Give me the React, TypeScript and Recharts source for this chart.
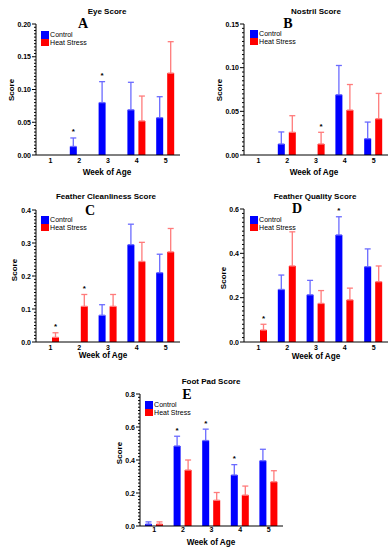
import React from 'react';
import { BarChart, Bar, XAxis, YAxis, ErrorBar, LabelList, Legend } from 'recharts';

const weeks = ['1', '2', '3', '4', '5'];

// Eye score
const eyeControl = [0, 0.013, 0.080, 0.069, 0.057];
const eyeControlErr = [0, 0.013, 0.032, 0.042, 0.032];
const eyeHeat = [0, 0, 0, 0.052, 0.125];
const eyeHeatErr = [0, 0, 0, 0.038, 0.048];
const eyeControlStar = [false, true, true, false, false];
const eyeHeatStar = [false, false, false, false, false];
const eyeTicks = [0, 0.05, 0.1, 0.15, 0.2];

// Nostril score
const nosControl = [0, 0.0126, 0, 0.069, 0.0187];
const nosControlErr = [0, 0.0138, 0, 0.0335, 0.019];
const nosHeat = [0, 0.026, 0.0126, 0.0514, 0.0415];
const nosHeatErr = [0, 0.019, 0.0134, 0.0293, 0.029];
const nosControlStar = [false, false, false, false, false];
const nosHeatStar = [false, false, true, false, false];
const nosTicks = [0, 0.05, 0.1, 0.15];

// Feather cleanliness score
const clnControl = [0, 0, 0.081, 0.295, 0.21];
const clnControlErr = [0, 0, 0.032, 0.062, 0.056];
const clnHeat = [0.014, 0.108, 0.108, 0.244, 0.273];
const clnHeatErr = [0.014, 0.036, 0.036, 0.058, 0.071];
const clnControlStar = [false, false, false, false, false];
const clnHeatStar = [true, true, false, false, false];
const clnTicks = [0, 0.1, 0.2, 0.3, 0.4];

// Feather quality score
const qltControl = [0, 0.237, 0.213, 0.483, 0.34];
const qltControlErr = [0, 0.065, 0.065, 0.082, 0.08];
const qltHeat = [0.054, 0.343, 0.174, 0.19, 0.272];
const qltHeatErr = [0.026, 0.154, 0.058, 0.053, 0.071];
const qltControlStar = [false, false, false, true, false];
const qltHeatStar = [true, false, false, false, false];
const qltTicks = [0, 0.2, 0.4, 0.6];

// Foot pad score
const fpControl = [0.012, 0.485, 0.518, 0.309, 0.396];
const fpControlErr = [0.013, 0.059, 0.069, 0.063, 0.069];
const fpHeat = [0.012, 0.339, 0.156, 0.187, 0.268];
const fpHeatErr = [0.013, 0.061, 0.047, 0.055, 0.067];
const fpControlStar = [false, true, true, true, false];
const fpHeatStar = [false, false, false, false, false];
const fpTicks = [0, 0.2, 0.4, 0.6, 0.8];

const BLUE = '#0000ff';
const RED = '#ff0000';
const BLUE_ERR = '#6b6bff';
const RED_ERR = '#ff7b7b';
const SANS = '"Liberation Sans", Arial, sans-serif';
const SERIF = '"Liberation Serif", "Times New Roman", serif';

function makeRows(c: number[], ce: number[], h: number[], he: number[]) {
  return weeks.map((w, i) => ({
    week: w,
    control: c[i],
    heat: h[i],
    controlErr: c[i] === 0 && ce[i] === 0 ? null : [0, ce[i]],
    heatErr: h[i] === 0 && he[i] === 0 ? null : [0, he[i]],
  }));
}

function withMinor(major: number[]) {
  const out: number[] = [];
  for (let i = 0; i < major.length - 1; i++) {
    const a = major[i];
    const b = major[i + 1];
    for (let k = 0; k < 10; k++) out.push(+(a + ((b - a) * k) / 10).toFixed(6));
  }
  out.push(major[major.length - 1]);
  return out;
}

const YTick = (props: any) => {
  const { x, y, payload, majors, decimals } = props;
  const v = payload.value;
  const isMajor = majors.some((m: number) => Math.abs(m - v) < 1e-9);
  return (
    <g>
      <line x1={x - (isMajor ? 4 : 2)} x2={x} y1={y} y2={y} stroke="#000" strokeWidth={1} />
      {isMajor && (
        <text
          x={x - 5}
          y={y}
          textAnchor="end"
          dominantBaseline="central"
          fontSize={7}
          fontWeight="bold"
          fontFamily={SANS}
          fill="#000"
        >
          {v.toFixed(decimals)}
        </text>
      )}
    </g>
  );
};

function starRenderer(stars: boolean[], vals: number[], errs: number[]) {
  return (props: any) => {
    const idx = weeks.indexOf(String(props.value));
    if (idx < 0 || !stars[idx]) return null;
    const vb = props.viewBox || props;
    const x = vb.x;
    const y = vb.y;
    const w = vb.width;
    const h = Math.abs(vb.height);
    const v = vals[idx];
    if (!v || !h) return null;
    const ppu = h / v;
    const errTop = y - errs[idx] * ppu;
    return (
      <text
        x={x + w / 2}
        y={errTop - 3.5}
        textAnchor="middle"
        fontSize={8}
        fontWeight="bold"
        fontFamily={SANS}
        fill="#000"
      >
        *
      </text>
    );
  };
}

const renderLegend = (props: any) => {
  const items = props.payload || [];
  return (
    <div style={{ fontFamily: SANS, fontSize: 7, color: '#000' }}>
      {items.map((it: any) => (
        <div key={it.value} style={{ display: 'flex', alignItems: 'center', height: 7.7, lineHeight: '7.7px' }}>
          <span style={{ display: 'inline-block', width: 7.6, height: 7.7, background: it.color, marginRight: 1.5 }} />
          <span>{it.value}</span>
        </div>
      ))}
    </div>
  );
};

type PanelProps = {
  left: number;
  top: number;
  width: number;
  height: number;
  margin: { top: number; right: number; bottom: number; left: number };
  yWidth: number;
  xHeight: number;
  xTickMargin: number;
  ticks: number[];
  decimals: number;
  control: number[];
  controlErr: number[];
  heat: number[];
  heatErr: number[];
  controlStar: boolean[];
  heatStar: boolean[];
  legendLeft: number;
  legendTop: number;
};

const Panel = (p: PanelProps) => {
  const data = makeRows(p.control, p.controlErr, p.heat, p.heatErr);
  const allTicks = withMinor(p.ticks);
  const max = p.ticks[p.ticks.length - 1];
  return (
    <div style={{ position: 'absolute', left: p.left, top: p.top }}>
      <BarChart width={p.width} height={p.height} data={data} margin={p.margin} barGap={4} barSize={7}>
        <XAxis
          dataKey="week"
          height={p.xHeight}
          tickLine={false}
          tickSize={0}
          tickMargin={p.xTickMargin}
          axisLine={{ stroke: '#000', strokeWidth: 1 }}
          tick={{ fontSize: 7, fontWeight: 'bold', fill: '#000', fontFamily: SANS }}
        />
        <YAxis
          width={p.yWidth}
          domain={[0, max]}
          ticks={allTicks}
          interval={0}
          tickLine={false}
          tickSize={0}
          tickMargin={0}
          axisLine={{ stroke: '#000', strokeWidth: 1 }}
          tick={(tp: any) => <YTick {...tp} majors={p.ticks} decimals={p.decimals} />}
        />
        <Legend
          layout="vertical"
          align="center"
          verticalAlign="middle"
          wrapperStyle={{ left: p.legendLeft, top: p.legendTop, width: 'auto' }}
          content={renderLegend}
        />
        <Bar dataKey="control" name="Control" fill={BLUE} isAnimationActive={false}>
          <ErrorBar dataKey="controlErr" width={3} stroke={BLUE_ERR} strokeWidth={1.3} direction="y" />
          <LabelList dataKey="week" content={starRenderer(p.controlStar, p.control, p.controlErr)} />
        </Bar>
        <Bar dataKey="heat" name="Heat Stress" fill={RED} isAnimationActive={false}>
          <ErrorBar dataKey="heatErr" width={3} stroke={RED_ERR} strokeWidth={1.3} direction="y" />
          <LabelList dataKey="week" content={starRenderer(p.heatStar, p.heat, p.heatErr)} />
        </Bar>
      </BarChart>
    </div>
  );
};

const titles = [
  { t: 'Eye Score', x: 107, y: 11 },
  { t: 'Nostril Score', x: 316, y: 11 },
  { t: 'Feather Cleanliness Score', x: 106, y: 196 },
  { t: 'Feather Quality Score', x: 315, y: 196 },
  { t: 'Foot Pad Score', x: 211, y: 381 },
];
const letters = [
  { t: 'A', x: 83, y: 23 },
  { t: 'B', x: 288, y: 23 },
  { t: 'C', x: 90, y: 210 },
  { t: 'D', x: 297, y: 208 },
  { t: 'E', x: 187, y: 394 },
];
const scoreLabels = [
  { x: 11, y: 90 },
  { x: 219, y: 90 },
  { x: 14, y: 270 },
  { x: 223, y: 278 },
  { x: 119, y: 453 },
];
const weekLabels = [
  { x: 107, y: 172 },
  { x: 314, y: 172 },
  { x: 103, y: 355 },
  { x: 316, y: 356 },
  { x: 211, y: 542 },
];

export default function App() {
  return (
    <div style={{ position: 'absolute', left: 0, top: 0, width: 392, height: 550, background: '#fff', overflow: 'hidden' }}>
      <Panel
        left={0} top={0} width={196} height={185}
        margin={{ top: 24, right: 16, bottom: 0, left: 0 }}
        yWidth={36} xHeight={30} xTickMargin={3}
        ticks={eyeTicks} decimals={2}
        control={eyeControl} controlErr={eyeControlErr}
        heat={eyeHeat} heatErr={eyeHeatErr}
        controlStar={eyeControlStar} heatStar={eyeHeatStar}
        legendLeft={41} legendTop={31}
      />
      <Panel
        left={196} top={0} width={196} height={185}
        margin={{ top: 24, right: 4, bottom: 0, left: 0 }}
        yWidth={48} xHeight={30} xTickMargin={3}
        ticks={nosTicks} decimals={2}
        control={nosControl} controlErr={nosControlErr}
        heat={nosHeat} heatErr={nosHeatErr}
        controlStar={nosControlStar} heatStar={nosHeatStar}
        legendLeft={54} legendTop={30}
      />
      <Panel
        left={0} top={180} width={196} height={185}
        margin={{ top: 30, right: 16, bottom: 0, left: 0 }}
        yWidth={36} xHeight={23} xTickMargin={3}
        ticks={clnTicks} decimals={1}
        control={clnControl} controlErr={clnControlErr}
        heat={clnHeat} heatErr={clnHeatErr}
        controlStar={clnControlStar} heatStar={clnHeatStar}
        legendLeft={41} legendTop={36}
      />
      <Panel
        left={196} top={180} width={196} height={185}
        margin={{ top: 29, right: 4, bottom: 0, left: 0 }}
        yWidth={48} xHeight={23} xTickMargin={3}
        ticks={qltTicks} decimals={1}
        control={qltControl} controlErr={qltControlErr}
        heat={qltHeat} heatErr={qltHeatErr}
        controlStar={qltControlStar} heatStar={qltHeatStar}
        legendLeft={54} legendTop={36}
      />
      <Panel
        left={98} top={360} width={196} height={190}
        margin={{ top: 34, right: 11, bottom: 0, left: 0 }}
        yWidth={42} xHeight={24} xTickMargin={1.5}
        ticks={fpTicks} decimals={1}
        control={fpControl} controlErr={fpControlErr}
        heat={fpHeat} heatErr={fpHeatErr}
        controlStar={fpControlStar} heatStar={fpHeatStar}
        legendLeft={47} legendTop={41}
      />
      <svg width={392} height={550} style={{ position: 'absolute', left: 0, top: 0, pointerEvents: 'none' }}>
        {titles.map((d) => (
          <text key={d.t} x={d.x} y={d.y} textAnchor="middle" dominantBaseline="central" fontSize={8} fontWeight="bold" fontFamily={SANS} fill="#000">
            {d.t}
          </text>
        ))}
        {letters.map((d) => (
          <text key={d.t} x={d.x} y={d.y} textAnchor="middle" dominantBaseline="central" fontSize={14} fontWeight="bold" fontFamily={SERIF} fill="#000">
            {d.t}
          </text>
        ))}
        {scoreLabels.map((d, i) => (
          <text key={'s' + i} x={d.x} y={d.y} textAnchor="middle" dominantBaseline="central" fontSize={8} fontWeight="bold" fontFamily={SANS} fill="#000" transform={`rotate(-90 ${d.x} ${d.y})`}>
            Score
          </text>
        ))}
        {weekLabels.map((d, i) => (
          <text key={'w' + i} x={d.x} y={d.y} textAnchor="middle" dominantBaseline="central" fontSize={8.2} fontWeight="bold" fontFamily={SANS} fill="#000">
            Week of Age
          </text>
        ))}
      </svg>
    </div>
  );
}
